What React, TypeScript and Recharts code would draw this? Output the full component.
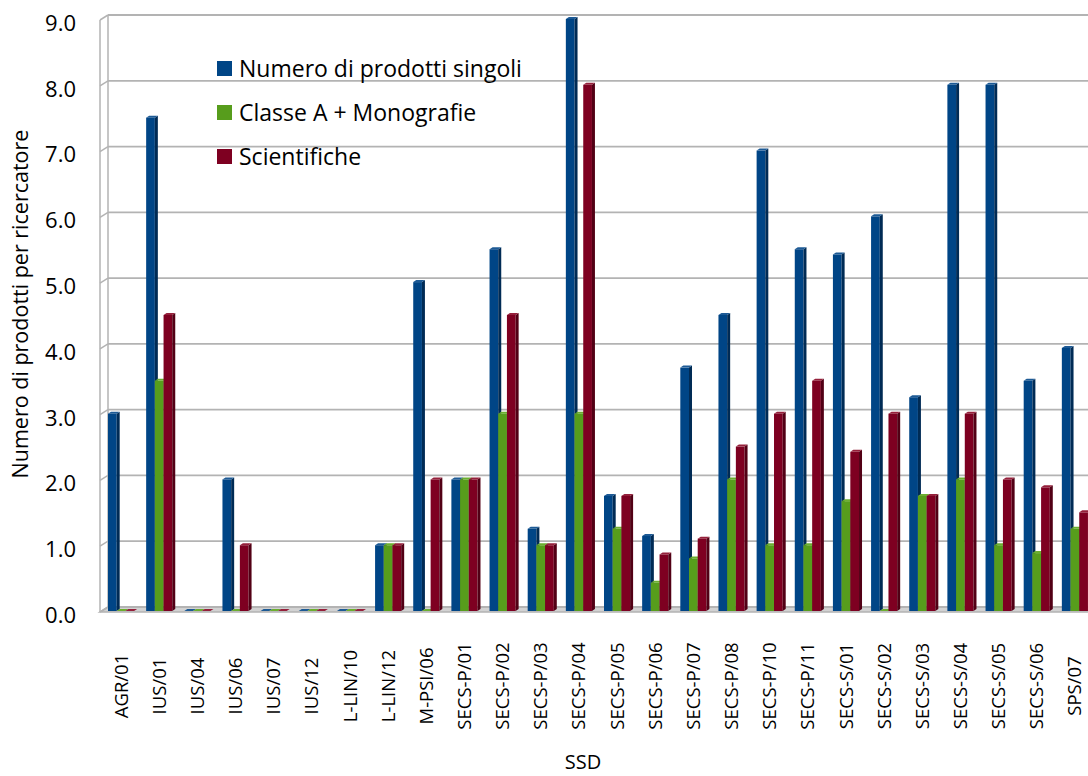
import React from 'react';
import { BarChart, Bar, XAxis, YAxis, CartesianGrid, Legend } from 'recharts';

const categories = ['AGR/01','IUS/01','IUS/04','IUS/06','IUS/07','IUS/12','L-LIN/10','L-LIN/12','M-PSI/06','SECS-P/01','SECS-P/02','SECS-P/03','SECS-P/04','SECS-P/05','SECS-P/06','SECS-P/07','SECS-P/08','SECS-P/10','SECS-P/11','SECS-S/01','SECS-S/02','SECS-S/03','SECS-S/04','SECS-S/05','SECS-S/06','SPS/07'];
const singoli = [3.0,7.5,0,2.0,0,0,0,1.0,5.0,2.0,5.5,1.25,9.0,1.75,1.14,3.7,4.5,7.0,5.5,5.42,6.0,3.25,8.0,8.0,3.5,4.0];
const classeA = [0,3.5,0,0,0,0,0,1.0,0,2.0,3.0,1.0,3.0,1.25,0.43,0.8,2.0,1.0,1.0,1.67,0,1.75,2.0,1.0,0.88,1.25];
const scientifiche = [0,4.5,0,1.0,0,0,0,1.0,2.0,2.0,4.5,1.0,8.0,1.75,0.86,1.1,2.5,3.0,3.5,2.42,3.0,1.75,3.0,2.0,1.88,1.5];
const yTicks = [0,1,2,3,4,5,6,7,8,9];

const seriesNames = ['Numero di prodotti singoli', 'Classe A + Monografie', 'Scientifiche'];
const seriesKeys = ['singoli', 'classeA', 'scientifiche'];
const seriesColors = ['#004586', '#579d1c', '#7e0021'];
const sideColors = ['#002b55', '#3c6e12', '#520015'];
const topColors = ['#1d5a95', '#6cae30', '#95203b'];

const data = categories.map((c, i) => ({
  ssd: c,
  singoli: singoli[i],
  classeA: classeA[i],
  scientifiche: scientifiche[i],
}));

const FONT = '"Open Sans", sans-serif';
const WALL_X0 = 100;
const WALL_X1 = 108;
const BACK_DY = 4;
const FRONT_DY = 1;
const CHART_W = 1100;
const CHART_H = 776;
const PLOT_TOP = 19;
const PLOT_BOTTOM = 611;

const makeShape = (si: number) => (props: any) => {
  const { x, y, width, height } = props;
  const d = 3;
  const dy = 2;
  const h = Math.max(0, height || 0);
  return (
    <g>
      <rect x={x} y={y} width={width} height={h} fill={seriesColors[si]} />
      <polygon
        points={`${x + width},${y} ${x + width + d},${y - dy} ${x + width + d},${y + h - dy} ${x + width},${y + h}`}
        fill={sideColors[si]}
      />
      <polygon
        points={`${x},${y} ${x + d},${y - dy} ${x + width + d},${y - dy} ${x + width},${y}`}
        fill={topColors[si]}
      />
    </g>
  );
};

const renderGridLine = (p: any) => {
  const { y1, index } = p;
  const yb = y1 - BACK_DY;
  const yf = y1 + FRONT_DY;
  const isBottom = Math.abs(y1 - PLOT_BOTTOM) < 1;
  const isTop = Math.abs(y1 - PLOT_TOP) < 1;
  return (
    <g key={`gl-${index}-${y1}`}>
      {isBottom && (
        <polygon
          points={`${WALL_X1},${yb} ${CHART_W},${yb} ${CHART_W - 8},${yf} ${WALL_X0},${yf}`}
          fill="#d2d2d2"
          stroke="#b3b3b3"
          strokeWidth={1.5}
        />
      )}
      {isTop && (
        <g>
          <line x1={WALL_X0} y1={PLOT_TOP + FRONT_DY} x2={WALL_X0} y2={PLOT_BOTTOM + FRONT_DY} stroke="#b3b3b3" strokeWidth={1.5} />
          <line x1={WALL_X1} y1={PLOT_TOP - BACK_DY} x2={WALL_X1} y2={PLOT_BOTTOM - BACK_DY} stroke="#b3b3b3" strokeWidth={1.5} />
        </g>
      )}
      <line x1={WALL_X1} y1={yb} x2={CHART_W} y2={yb} stroke="#b3b3b3" strokeWidth={1.8} />
      <line x1={WALL_X0} y1={yf} x2={WALL_X1} y2={yb} stroke="#b3b3b3" strokeWidth={1.5} />
    </g>
  );
};

const XTick = (props: any) => {
  const { x, payload } = props;
  const px = x + 6.5;
  const py = 686;
  return (
    <text
      x={px}
      y={py}
      transform={`rotate(-90, ${px}, ${py})`}
      textAnchor="middle"
      fontFamily={FONT}
      fontSize={18.5}
      fill="#000"
    >
      {payload.value}
    </text>
  );
};

const YTick = (props: any) => {
  const { y, payload } = props;
  return (
    <text x={76} y={y + 4} dy="0.357em" textAnchor="end" fontFamily={FONT} fontSize={22} fill="#000">
      {Number(payload.value).toFixed(1)}
    </text>
  );
};

const LegendContent = () => (
  <div style={{ fontFamily: FONT, fontSize: 23, color: '#000' }}>
    {seriesNames.map((n, i) => (
      <div key={n} style={{ display: 'flex', alignItems: 'center', height: 44, whiteSpace: 'nowrap' }}>
        <span style={{ display: 'inline-block', width: 15, height: 15, background: seriesColors[i], marginRight: 7 }} />
        <span>{n}</span>
      </div>
    ))}
  </div>
);

export default function App() {
  return (
    <div style={{ position: 'absolute', left: 0, top: 0, width: 1088, height: 776, overflow: 'hidden', background: '#fff' }}>
      <BarChart
        width={CHART_W}
        height={CHART_H}
        data={data}
        margin={{ top: PLOT_TOP, right: 6, bottom: 0, left: 0 }}
        barGap={0}
        barSize={8.7}
      >
        <CartesianGrid vertical={false} horizontal={renderGridLine as any} />
        <XAxis
          dataKey="ssd"
          height={CHART_H - PLOT_BOTTOM}
          axisLine={false}
          tickLine={false}
          interval={0}
          tick={<XTick />}
          label={{
            content: () => (
              <text x={583} y={762} dy="0.357em" textAnchor="middle" fontFamily={FONT} fontSize={20} fill="#000">
                SSD
              </text>
            ),
          }}
        />
        <YAxis
          width={102}
          domain={[0, 9]}
          ticks={yTicks}
          axisLine={false}
          tickLine={false}
          tick={<YTick />}
          label={{
            content: () => (
              <text
                x={22}
                y={304}
                transform="rotate(-90, 22, 304)"
                dy="0.3em"
                textAnchor="middle"
                fontFamily={FONT}
                fontSize={21.5}
                fill="#000"
              >
                Numero di prodotti per ricercatore
              </text>
            ),
          }}
        />
        <Legend
          layout="vertical"
          align="center"
          verticalAlign="middle"
          wrapperStyle={{ left: 217, top: 46, width: 'auto', right: 'auto', bottom: 'auto' }}
          content={<LegendContent />}
        />
        {seriesKeys.map((k, i) => (
          <Bar
            key={k}
            dataKey={k}
            name={seriesNames[i]}
            fill={seriesColors[i]}
            isAnimationActive={false}
            shape={makeShape(i)}
          />
        ))}
      </BarChart>
    </div>
  );
}
